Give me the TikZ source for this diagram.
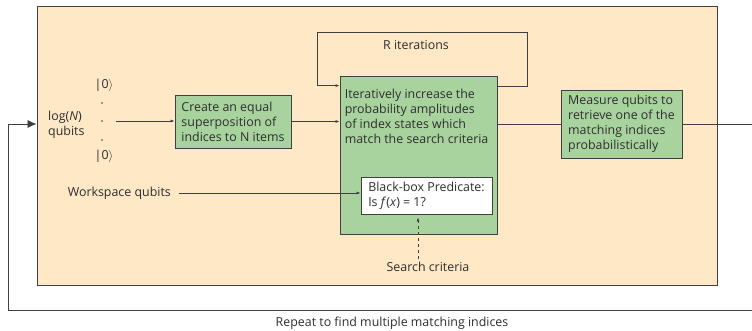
\documentclass[tikz,border=0pt]{standalone}
\usepackage{fontspec}
\setmainfont{Open Sans}
\usetikzlibrary{arrows.meta}

\definecolor{beige}{HTML}{FEE8C6}
\definecolor{boxgreen}{HTML}{A8D39E}
\definecolor{linegray}{HTML}{404040}
\definecolor{txtgray}{HTML}{2E2E2E}

\begin{document}
\begin{tikzpicture}[x=1pt,y=-1pt,
	every node/.style={font=\fontsize{12.4}{15}\selectfont,text=txtgray},
	frame/.style={draw=linegray,fill=beige,line width=0.8pt,minimum width=680pt,minimum height=279pt,inner sep=0pt},
	stepbox/.style={draw=linegray,fill=boxgreen,line width=0.8pt,align=left,inner sep=0pt},
	predbox/.style={draw=linegray,fill=white,line width=0.8pt,align=left,inner sep=0pt,minimum width=131pt,minimum height=37pt},
	conn/.style={draw=linegray,line width=0.75pt},
	arr/.style={conn,-{Latex[length=4pt,width=3pt]}},
	bigarr/.style={conn,-{Latex[length=9pt,width=8pt]}}]
	\useasboundingbox (0,0) rectangle (752,330);

	\node[frame] (frame) at (377,145.5) {};

	% inputs
	\node[anchor=west,align=left,inner sep=0pt] (logq) at (48,125) {log(\textit{N})\\qubits};
	\node (ket1) at (104,85) {|0$\rangle$};
	\node (ket2) at (104,156) {|0$\rangle$};
	\foreach \y in {103,121,140} {
		\fill[linegray] (102,\y) circle (0.8pt);
	}
	\coordinate (qin) at (116,121);

	% processing steps
	\node[stepbox,minimum width=116pt,minimum height=53pt] (create) at (233,121.5) {Create an equal\\superposition of\\indices to N items};
	\node[stepbox,minimum width=157pt,minimum height=158pt] (iter) at (418.5,155) {};
	\node[anchor=north west,align=left,inner sep=0pt] (itertxt) at ([shift={(5pt,-13pt)}]iter.north west) {Iteratively increase the\\probability amplitudes\\of index states which\\match the search criteria};
	\node[predbox] (pred) at (426.5,195.5) {Black-box Predicate:\\Is \textit{f}(\textit{x}) = 1?};
	\node[stepbox,minimum width=121pt,minimum height=68pt] (measure) at (621.5,124) {Measure qubits to\\retrieve one of the\\matching indices\\probabilistically};

	\node[anchor=east,inner sep=0pt] (ws) at (171,193) {Workspace qubits};
	\node (search) at (428,267) {Search criteria};
	\node (riter) at (416,45) {R iterations};
	\node (repeat) at (392,323) {Repeat to find multiple matching indices};

	% connectors
	\draw[arr] (qin) -- (qin -| create.west);
	\draw[arr] (create.east) -- (create.east -| iter.west);
	\draw[conn] (measure.west -| iter.east) -- (measure.west);
	\draw[arr] ([yshift=-11pt]iter.north east) -- ++(30,0) |- (317,32) |- ([yshift=-10pt]iter.north west);
	\draw[arr,shorten <=8pt] (ws.east) -- (ws.east -| pred.west);
	\draw[arr,dashed] ([xshift=-10pt]search.north) -- ([xshift=-10pt,yshift=-3pt]search.north |- pred.south);

	% repeat loop
	\coordinate (outr) at (752,124);
	\coordinate (backr) at (752,310);
	\draw[conn] (measure.east) -- (outr);
	\draw[bigarr] (backr) -- (8,310) |- (frame.west |- 0,124);
\end{tikzpicture}
\end{document}
